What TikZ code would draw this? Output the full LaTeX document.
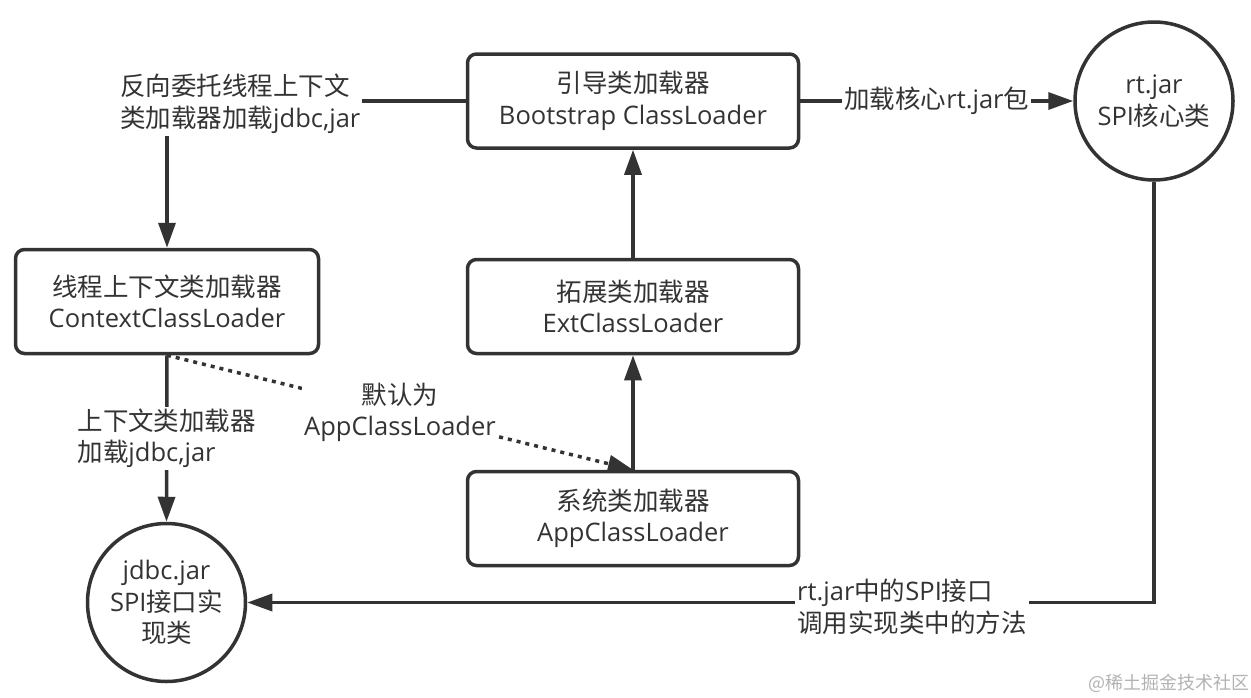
\documentclass[tikz,border=0pt]{standalone}
\usepackage{fontspec}
\setmainfont{Open Sans}
\newfontfamily\cjk{Noto Sans CJK SC}
\newcommand{\zh}[1]{{\cjk #1}}
\usetikzlibrary{arrows.meta}
\definecolor{ink}{HTML}{333333}
\tikzset{
  loader/.style={draw=ink, line width=3.5pt, rounded corners=9pt, minimum width=331pt, minimum height=94pt, align=center, text=ink},
  jar/.style={draw=ink, line width=3.5pt, circle, minimum size=158pt, inner sep=0pt, align=center, text=ink},
  flow/.style={draw=ink, line width=3.5pt, -{Triangle[length=25pt,width=17pt]}},
  note/.style={fill=white, text=ink, inner sep=2pt},
}
\begin{document}
\begin{tikzpicture}[x=1pt, y=-1pt, font=\fontsize{25.5}{31.5}\selectfont]
      % \draw[step=50, gray, very thin] (0, 0) grid (1251, 697);
      \useasboundingbox (0, 0) rectangle (1251, 697);

      \node[loader] (boot) at (633, 101) {\zh{引导类加载器}\\Bootstrap ClassLoader};
      \node[loader] (ext) at (633, 306.5) {\zh{拓展类加载器}\\ExtClassLoader};
      \node[loader] (app) at (633, 518.5) {\zh{系统类加载器}\\AppClassLoader};
      \node[loader, minimum width=303pt, minimum height=104pt] (ctx) at (167, 301.5) {\zh{线程上下文类加载器}\\ContextClassLoader};
      \node[jar] (rt) at (1154, 101) {rt.jar\\SPI\zh{核心类}};
      \node[jar] (jdbc) at (166.5, 602.5) {jdbc.jar\\SPI\zh{接口实}\\\zh{现类}};

      \draw[flow] (app.north) -- (ext.south);
      \draw[flow] (ext.north) -- (boot.south);
      \draw[flow] (boot.east) -- (rt.west) node [midway, note] {\zh{加载核心}rt.jar\zh{包}};
      \draw[flow] (boot.west) -| (ctx.north);
      \draw[flow] (ctx.south) -- (jdbc.north) node [midway, note, align=left] {\zh{上下文类加载器}\\\zh{加载}jdbc,jar};
      \draw[flow, dash pattern=on 4pt off 5pt] (ctx.south) -- (app.north) node [midway, note, align=center] {\zh{默认为}\\AppClassLoader};
      \draw[flow] (rt.south) |- (jdbc.east);

      \node[note, align=left, anchor=west] (deleg) at (118, 104) {\zh{反向委托线程上下文}\\\zh{类加载器加载}jdbc,jar};
      \node[note, align=left, anchor=west] (call) at (795, 607) {rt.jar\zh{中的}SPI\zh{接口}\\\zh{调用实现类中的方法}};
      \node[text=black!30, font=\cjk\fontsize{18}{20}\selectfont, anchor=east, inner sep=0pt] (mark) at (1250, 683) {@稀土掘金技术社区};
    \end{tikzpicture}
\end{document}
